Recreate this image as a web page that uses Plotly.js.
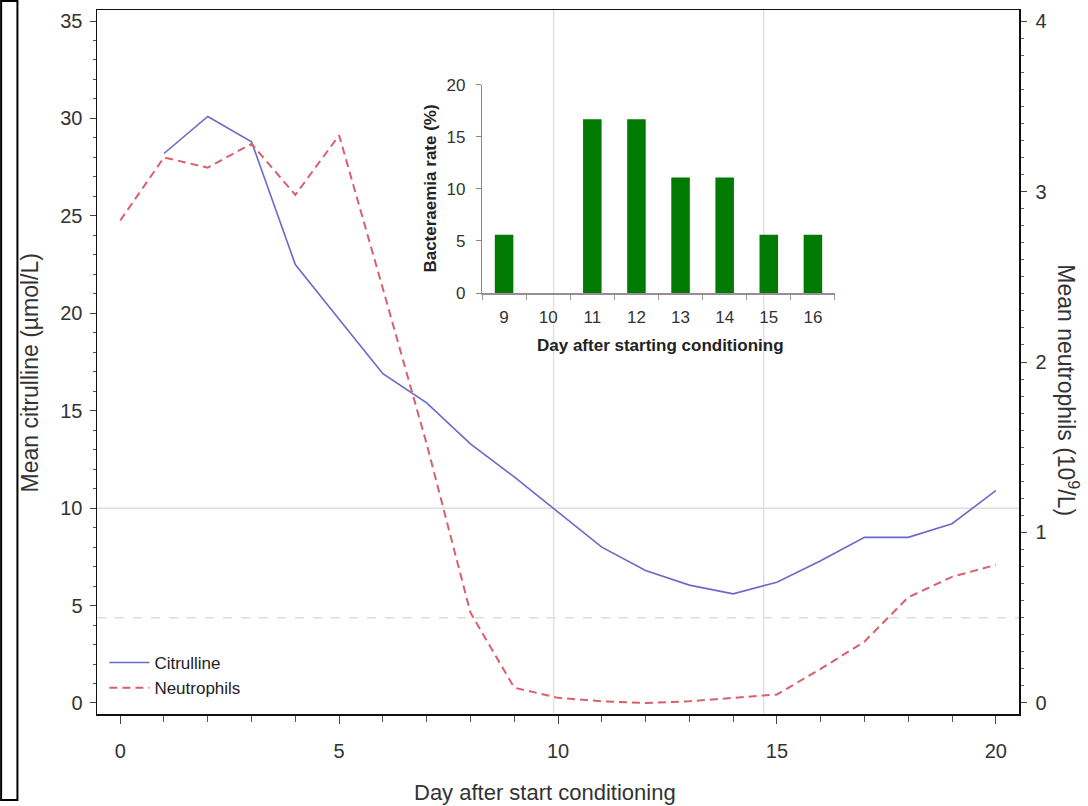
<!DOCTYPE html>
<html>
<head>
<meta charset="utf-8">
<script src="https://cdn.plot.ly/plotly-3.0.1.min.js"></script>
<style>
html,body{margin:0;padding:0;background:#fff;}
#chart{width:1088px;height:806px;}
</style>
</head>
<body>
<div id="chart"></div>
<script>
// ---- data ----
const citDays = [1,2,3,4,5,6,7,8,9,10,11,12,13,14,15,16,17,18,19,20];
const citrulline = [28.2,30.1,28.8,22.5,19.7,16.9,15.4,13.3,11.6,9.8,8.0,6.8,6.05,5.6,6.2,7.3,8.5,8.5,9.2,10.9];
const neuDays = [0,1,2,3,4,5,6,7,8,9,10,11,12,13,14,15,16,17,18,19,20];
const neutrophils = [2.83,3.2,3.14,3.28,2.98,3.33,2.43,1.52,0.53,0.09,0.03,0.01,0.0,0.01,0.03,0.05,0.2,0.36,0.62,0.74,0.81];
const insetDays = ['9','10','11','12','13','14','15','16'];
const bacteraemia = [5.6,0,16.7,16.7,11.1,11.1,5.6,5.6];
// reference lines
const citRef = 10;      // µmol/L
const neuRef = 0.5;     // 10^9/L
const dayRefs = [9.9, 14.7];

const FONT = 'Liberation Sans, Arial, sans-serif';

const traces = [
  {x: citDays, y: citrulline, type:'scatter', mode:'lines', name:'Citrulline',
   line:{color:'#6a6ac8', width:1.6}, xaxis:'x', yaxis:'y'},
  {x: neuDays, y: neutrophils, type:'scatter', mode:'lines', name:'Neutrophils',
   line:{color:'#d8606c', width:2, dash:'8px,5px'}, xaxis:'x', yaxis:'y2'},
  {x: insetDays, y: bacteraemia, type:'bar', name:'Bacteraemia', showlegend:false,
   marker:{color:'#007a00'}, xaxis:'x3', yaxis:'y3'}
];

const shapes = [
  {type:'line', xref:'paper', x0:0, x1:1, yref:'y', y0:citRef, y1:citRef, layer:'below',
   line:{color:'#dddddd', width:1.5}},
  {type:'line', xref:'paper', x0:0, x1:1, yref:'y2', y0:neuRef, y1:neuRef, layer:'below',
   line:{color:'#dddddd', width:1.5, dash:'dash'}},
  // outer bracket box at left
  {type:'rect', xref:'paper', yref:'paper', x0:-0.104, x1:-0.0863, y0:-0.122, y1:1.0128,
   line:{color:'#000', width:2}, fillcolor:'rgba(0,0,0,0)'}
];
dayRefs.forEach(d => shapes.push({type:'line', xref:'x', x0:d, x1:d, yref:'paper', y0:0, y1:1,
  layer:'below', line:{color:'#e2e2e2', width:1.5}}));

const layout = {
  width:1088, height:806,
  margin:{l:97, r:69, t:10, b:92},
  paper_bgcolor:'#fff', plot_bgcolor:'rgba(0,0,0,0)',
  font:{family:FONT, color:'#333', size:20},
  showlegend:true,
  legend:{x:0.008, y:0.098, xanchor:'left', yanchor:'top', bgcolor:'rgba(0,0,0,0)',
    font:{size:17, color:'#222'}, tracegroupgap:0, itemwidth:40},
  xaxis:{range:[-0.53,20.53], showgrid:false, zeroline:false, showline:true, linecolor:'#111', linewidth:1.5,
    mirror:true, ticks:'outside', ticklen:8, tickcolor:'#444', dtick:5, tick0:0,
    minor:{dtick:1, ticks:'outside', ticklen:6, tickcolor:'#555'},
    ticklabelstandoff:10, tickfont:{size:20, color:'#333'}, domain:[0,1]},
  yaxis:{range:[-0.565,35.565], showgrid:false, zeroline:false, showline:true, linecolor:'#111', linewidth:1.5,
    ticks:'outside', ticklen:6, tickcolor:'#444', dtick:5, tick0:0,
    minor:{dtick:1, ticks:'outside', ticklen:3, tickcolor:'#555'},
    ticklabelstandoff:3, tickfont:{size:20, color:'#333'}},
  yaxis2:{overlaying:'y', side:'right', range:[-0.0646,4.0646], showgrid:false, zeroline:false,
    showline:true, linecolor:'#111', linewidth:1.5,
    ticks:'outside', ticklen:6, tickcolor:'#444', dtick:1, tick0:0,
    minor:{dtick:0.1, ticks:'outside', ticklen:3, tickcolor:'#666'},
    ticklabelstandoff:5, tickfont:{size:20, color:'#333'}},
  xaxis3:{domain:[0.4176,0.8004], anchor:'y3', type:'category', categoryorder:'array', categoryarray:insetDays,
    range:[-0.5,7.5], showgrid:false, zeroline:false, showline:true, linecolor:'#9a8a9a', linewidth:1.5,
    ticks:'outside', tickson:'boundaries', ticklen:5, tickcolor:'#999',
    tickfont:{size:17, color:'#333'}, ticklabelstandoff:8},
  yaxis3:{domain:[0.598,0.8935], anchor:'x3', range:[0,20], showgrid:false, zeroline:false,
    showline:true, linecolor:'#888', linewidth:1.2, ticks:'outside', ticklen:5, tickcolor:'#888', dtick:5,
    tickfont:{size:17, color:'#333'}, ticklabelstandoff:7},
  bargap:0.58,
  shapes:shapes,
  annotations:[
    {text:'Day after start conditioning', xref:'paper', yref:'paper', x:0.486, y:-0.112,
     xanchor:'center', yanchor:'middle', showarrow:false, font:{size:22, color:'#333'}},
    {text:'Mean citrulline (µmol/L)', xref:'paper', yref:'paper', x:-0.0727, y:0.485,
     xanchor:'center', yanchor:'middle', textangle:-90, showarrow:false, font:{size:23, color:'#333'}},
    {text:'Mean neutrophils (10<sup>9</sup>/L)', xref:'paper', yref:'paper', x:1.053, y:0.46,
     xanchor:'center', yanchor:'middle', textangle:90, showarrow:false, font:{size:23, color:'#333'}},
    {text:'<b>Day after starting conditioning</b>', xref:'paper', yref:'paper', x:0.611, y:0.524,
     xanchor:'center', yanchor:'middle', showarrow:false, font:{size:17, color:'#222'}},
    {text:'<b>Bacteraemia rate (%)</b>', xref:'paper', yref:'paper', x:0.362, y:0.746,
     xanchor:'center', yanchor:'middle', textangle:-90, showarrow:false, font:{size:17, color:'#222'}}
  ]
};

Plotly.newPlot('chart', traces, layout, {displayModeBar:false, staticPlot:true});
</script>
</body>
</html>
